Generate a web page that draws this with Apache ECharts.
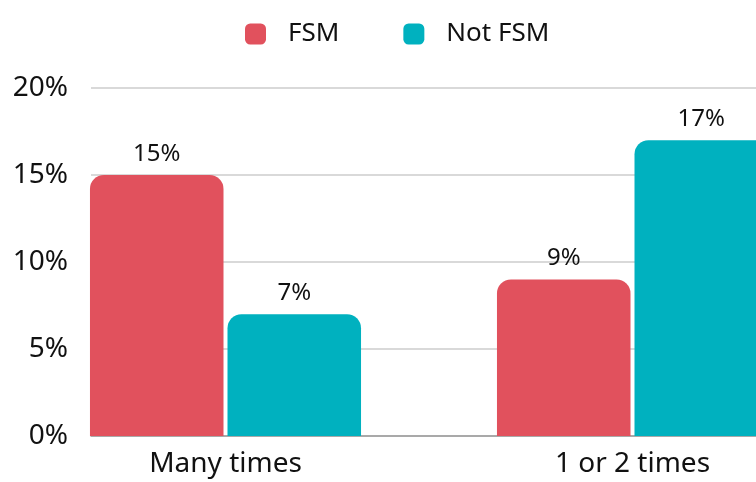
<!DOCTYPE html>
<html>
<head>
<meta charset="utf-8">
<script src="https://cdn.jsdelivr.net/npm/echarts@6/dist/echarts.min.js"></script>
<style>
  html, body { margin: 0; padding: 0; background: #fff; }
  #chart { width: 756px; height: 482px; }
</style>
</head>
<body>
<div id="chart"></div>
<script>
const categories = ['Many times', '1 or 2 times']
const fsm = [15, 9]
const notFsm = [7, 17]
const yTicks = [0, 5, 10, 15, 20]

const FONT = 'Noto Sans'
const RED = '#E1515D'
const TEAL = '#00B1BF'

const chart = echarts.init(document.getElementById('chart'))

// grid 0 carries the y axis + gridlines, grid 1 holds the bars (wider, cropped on the right)
const option = {
  animation: false,
  textStyle: { fontFamily: FONT },
  legend: {
    left: 240,
    top: 16,
    itemWidth: 21,
    itemHeight: 21,
    itemGap: 64,
    icon: 'roundRect',
    textStyle: { fontSize: 26, color: '#111', padding: [0, 0, 0, 17], fontFamily: FONT },
    data: ['FSM', 'Not FSM']
  },
  grid: [
    { left: 91, width: 760, top: 88, bottom: 46, outerBoundsMode: 'none', containLabel: false },
    { left: 22, width: 814, top: 88, bottom: 46, outerBoundsMode: 'none', containLabel: false }
  ],
  xAxis: [
    {
      gridIndex: 0, type: 'value', min: 0, max: 1,
      axisLine: { show: true, lineStyle: { color: '#999', width: 1.5 } },
      axisTick: { show: false }, axisLabel: { show: false }, splitLine: { show: false }
    },
    {
      gridIndex: 1, type: 'category', data: categories,
      axisLine: { show: false }, axisTick: { show: false },
      axisLabel: { fontSize: 28, color: '#111', margin: 14, fontFamily: FONT }
    }
  ],
  yAxis: [
    {
      gridIndex: 0, type: 'value', min: 0, max: 20, interval: 5,
      axisLine: { show: false }, axisTick: { show: false },
      axisLabel: { fontSize: 28, color: '#111', margin: 23, formatter: '{value}%', fontFamily: FONT,
        customValues: yTicks },
      splitLine: { lineStyle: { color: '#cccccc', width: 1.5 } }
    },
    {
      gridIndex: 1, type: 'value', min: 0, max: 20, interval: 5, show: false
    }
  ],
  series: [
    {
      name: 'FSM', type: 'bar', xAxisIndex: 1, yAxisIndex: 1, data: fsm,
      barCategoryGap: '33.4%', barGap: '3%',
      itemStyle: { color: RED, borderRadius: [14, 14, 0, 0] },
      label: { show: true, position: 'top', distance: 9, fontSize: 24, color: '#111', formatter: '{c}%', fontFamily: FONT }
    },
    {
      name: 'Not FSM', type: 'bar', xAxisIndex: 1, yAxisIndex: 1, data: notFsm,
      barCategoryGap: '33.4%', barGap: '3%',
      itemStyle: { color: TEAL, borderRadius: [14, 14, 0, 0] },
      label: { show: true, position: 'top', distance: 9, fontSize: 24, color: '#111', formatter: '{c}%', fontFamily: FONT }
    }
  ]
}

chart.setOption(option)
</script>
</body>
</html>
